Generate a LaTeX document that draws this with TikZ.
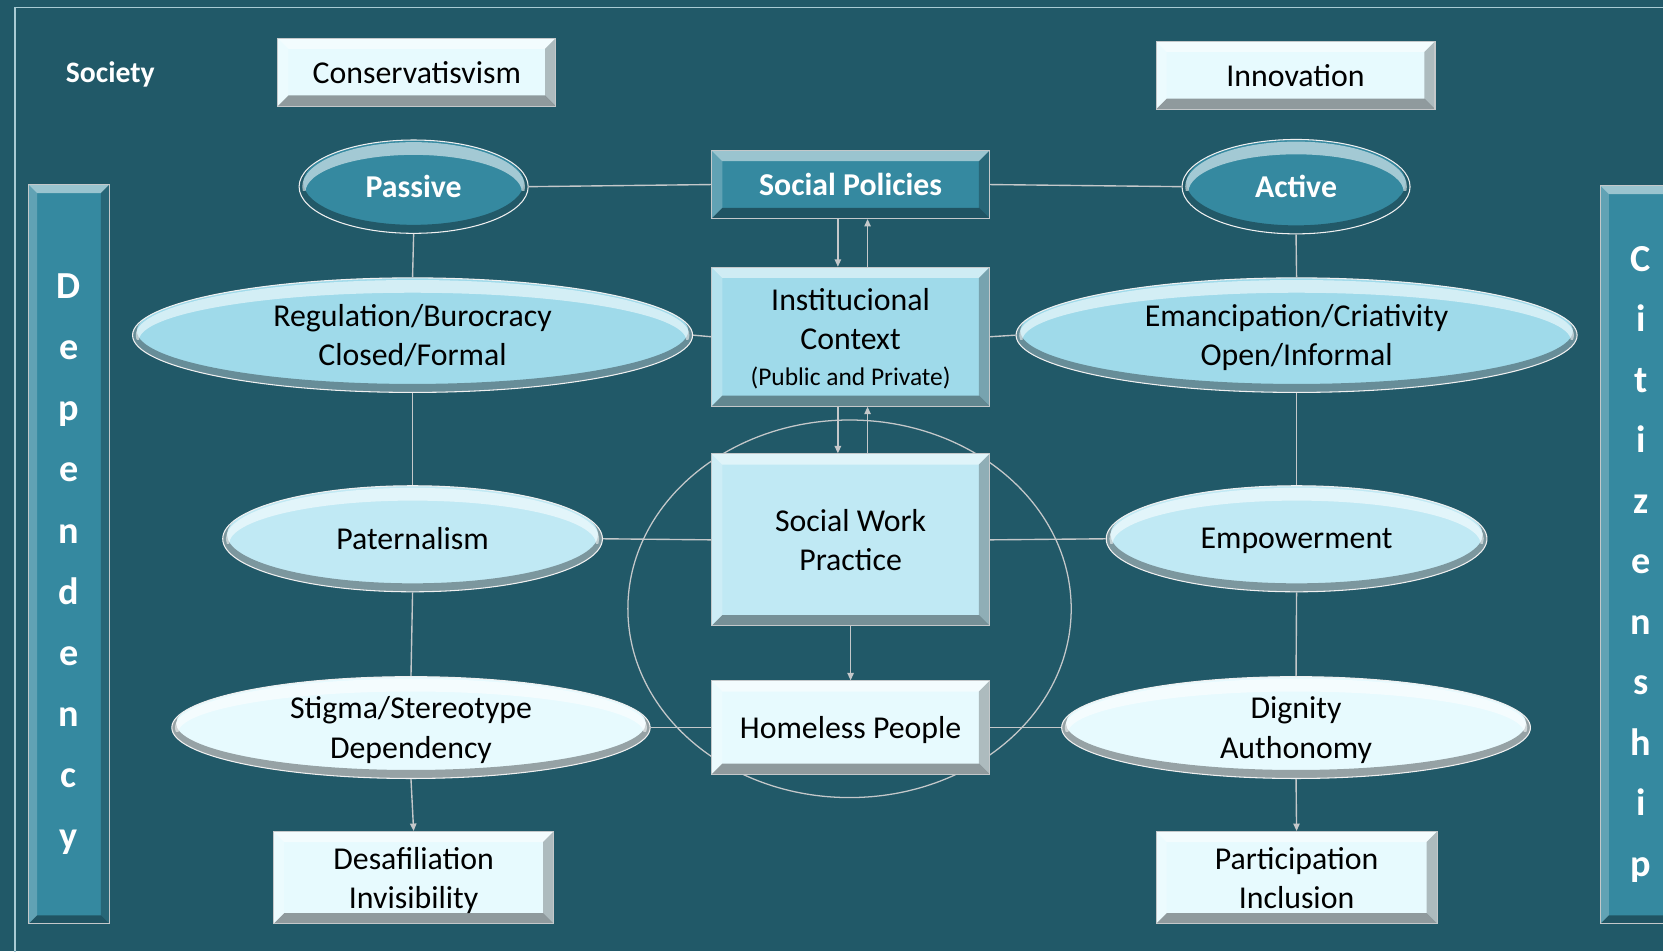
\documentclass[tikz,border=0pt]{standalone}
\usepackage{fontspec}
\setmainfont{Carlito}
\usetikzlibrary{shapes.geometric,arrows.meta,calc}
\definecolor{bg}{HTML}{215968}
\definecolor{tealfill}{HTML}{3589A0}
\definecolor{lblue}{HTML}{9FDAEA}
\definecolor{mblue}{HTML}{C0E9F4}
\definecolor{pale}{HTML}{E7FAFE}
\definecolor{linec}{HTML}{C4C8CA}
\definecolor{framec}{HTML}{A9CBD4}
\tikzset{
  bevel/.style={path picture={
    \coordinate (bvA) at (path picture bounding box.north west);
    \coordinate (bvB) at (path picture bounding box.north east);
    \coordinate (bvC) at (path picture bounding box.south east);
    \coordinate (bvD) at (path picture bounding box.south west);
    \fill[white,opacity=.5] (bvA) -- (bvB) -- ([xshift=-#1,yshift=-#1]bvB) -- ([xshift=#1,yshift=-#1]bvA) -- cycle;
    \fill[black,opacity=.38] (bvD) -- (bvC) -- ([xshift=-#1,yshift=#1]bvC) -- ([xshift=#1,yshift=#1]bvD) -- cycle;
    \fill[white,opacity=.22] (bvA) -- (bvD) -- ([xshift=#1,yshift=#1]bvD) -- ([xshift=#1,yshift=-#1]bvA) -- cycle;
    \fill[black,opacity=.25] (bvB) -- (bvC) -- ([xshift=-#1,yshift=#1]bvC) -- ([xshift=-#1,yshift=-#1]bvB) -- cycle;
  }},
  bevel/.default=10pt,
  pillow/.style={path picture={
    \coordinate (plC) at (path picture bounding box.center);
    \fill[black,opacity=.35,even odd rule] let \p1=($(path picture bounding box.north east)-(plC)$) in
      (plC) ellipse[x radius=\x1+1pt,y radius=\y1+1pt]
      ([yshift=4pt]plC) ellipse[x radius=\x1-4pt,y radius=\y1-4pt];
    \begin{scope}
      \clip (path picture bounding box.north west) rectangle ([yshift=-4pt]path picture bounding box.east);
      \fill[white,opacity=.55,even odd rule] let \p1=($(path picture bounding box.north east)-(plC)$) in
        (plC) ellipse[x radius=\x1-3pt,y radius=\y1-2pt]
        ([yshift=-5pt]plC) ellipse[x radius=\x1-6pt,y radius=\y1-9pt];
    \end{scope}
  }},
  base/.style={inner sep=0pt, align=center, text=black, text depth=0pt, font=\fontsize{30}{37}\selectfont},
  boxn/.style={base, rectangle, draw=linec, line width=1pt, bevel},
  ell/.style={base, ellipse, draw=white!88!gray, line width=1pt, pillow},
  wb/.style={text=white, font=\fontsize{30}{37}\selectfont\bfseries},
  conn/.style={draw=linec, line width=1.3pt},
  arr/.style={conn, -{Triangle[length=7pt,width=6pt]}},
  vert/.style={inner sep=0pt, align=center, text=white},
}
\begin{document}
\begin{tikzpicture}[x=1pt,y=-1pt]
\useasboundingbox (0,0) rectangle (1568,897);
\clip (0,0) rectangle (1568,897);
\fill[bg] (0,0) rectangle (1568,897);
\draw[framec, line width=1.6pt] (14,905) -- (14,7) -- (1580,7);

% ring
\node[ellipse, draw=linec, line width=1.2pt, minimum width=418pt, minimum height=356pt, inner sep=0pt] (ring) at (801,574) {};

% title texts
\node[base, wb, font=\fontsize{28}{34}\selectfont\bfseries] (society) at (104,68) {Society};
\node[boxn, fill=pale, minimum width=262pt, minimum height=64pt] (cons) at (393,68) {Conservatisvism};
\node[boxn, fill=pale, minimum width=263pt, minimum height=64pt] (innov) at (1221.5,71) {Innovation};

% side bars
\node[rectangle, fill=tealfill, draw=linec, line width=1pt, bevel=8pt, minimum width=76pt, minimum height=697pt] (depbar) at (65,522.5) {};
\node[vert, font=\fontsize{36}{57.6}\selectfont\bfseries] (deptxt) at (65,532) {D\\e\\p\\e\\n\\d\\e\\n\\c\\y};
\node[rectangle, fill=tealfill, draw=linec, line width=1pt, bevel=8pt, minimum width=76pt, minimum height=696pt] (citbar) at (1547,523) {};
\node[vert, font=\fontsize{36}{57}\selectfont\bfseries] (cittxt) at (1547,532) {C\\i\\t\\i\\z\\e\\n\\s\\h\\i\\p};

% center column
\node[boxn, fill=tealfill, wb, minimum width=262pt, minimum height=64pt] (sp) at (802,174) {Social Policies};
\node[boxn, fill=lblue, minimum width=262pt, minimum height=131pt] (ic) at (802,317.5) {Institucional\\Context\\[-3pt]{\fontsize{24}{30}\selectfont (Public and Private)}};
\node[boxn, fill=mblue, minimum width=262pt, minimum height=162pt] (swp) at (802,509) {Social Work\\Practice};
\node[boxn, fill=pale, minimum width=262pt, minimum height=88pt] (hp) at (802,686) {Homeless People};

% left column
\node[ell, fill=tealfill, wb, minimum width=216pt, minimum height=88pt] (passive) at (390,176) {Passive};
\node[ell, fill=lblue, minimum width=528pt, minimum height=108pt] (reg) at (389,316) {Regulation/Burocracy\\Closed/Formal};
\node[ell, fill=mblue, minimum width=358pt, minimum height=100pt] (pat) at (389,508) {Paternalism};
\node[ell, fill=pale, minimum width=451pt, minimum height=96pt] (stig) at (387.5,686) {Stigma/Stereotype\\Dependency};
\node[boxn, fill=pale, minimum width=264pt, minimum height=87pt] (desaf) at (390,827.5) {Desafiliation\\Invisibility};

% right column
\node[ell, fill=tealfill, wb, minimum width=215pt, minimum height=89pt] (active) at (1222,176) {Active};
\node[ell, fill=lblue, minimum width=529pt, minimum height=108pt] (eman) at (1222.5,316) {Emancipation/Criativity\\Open/Informal};
\node[ell, fill=mblue, minimum width=359pt, minimum height=100pt] (emp) at (1222.5,508) {Empowerment};
\node[ell, fill=pale, minimum width=442pt, minimum height=96pt] (dig) at (1222,686) {Dignity\\Authonomy};
\node[boxn, fill=pale, minimum width=265pt, minimum height=87pt] (part) at (1222.5,827.5) {Participation\\Inclusion};

% horizontal connectors
\draw[conn] (passive.east) -- (sp.west);
\draw[conn] (sp.east) -- (active.west);
\draw[conn] (reg.east) -- (ic.west);
\draw[conn] (ic.east) -- (eman.west);
\draw[conn] (pat.east) -- (swp.west);
\draw[conn] (swp.east) -- (emp.west);
\draw[conn] (stig.east) -- (hp.west);
\draw[conn] (hp.east) -- (dig.west);

% vertical connectors
\draw[conn] (passive.south) -- (reg.north);
\draw[conn] (reg.south) -- (pat.north);
\draw[conn] (pat.south) -- (stig.north);
\draw[arr] (stig.south) -- (desaf.north);
\draw[conn] (active.south) -- (eman.north);
\draw[conn] (eman.south) -- (emp.north);
\draw[conn] (emp.south) -- (dig.north);
\draw[arr] (dig.south) -- (part.north);

% center arrows
\draw[arr] ([xshift=-12pt]sp.south) -- ([xshift=-12pt]ic.north);
\draw[arr] ([xshift=16pt]ic.north) -- ([xshift=16pt]sp.south);
\draw[arr] ([xshift=-12pt]ic.south) -- ([xshift=-12pt]swp.north);
\draw[arr] ([xshift=16pt]swp.north) -- ([xshift=16pt]ic.south);
\draw[arr] (swp.south) -- (hp.north);
\end{tikzpicture}
\end{document}
